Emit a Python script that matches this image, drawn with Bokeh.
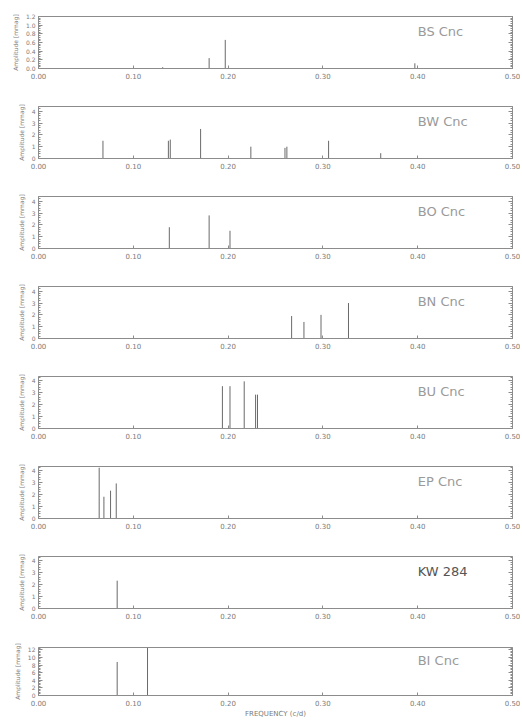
from bokeh.plotting import figure
from bokeh.layouts import column
from bokeh.models import LinearAxis, Label, FixedTicker, Range1d, NumeralTickFormatter
from bokeh.embed import file_html
from bokeh.resources import INLINE

# ---- data ----
star_names = ["BS Cnc", "BW Cnc", "BO Cnc", "BN Cnc", "BU Cnc", "EP Cnc", "KW 284", "BI Cnc"]

bs_freq = [0.131, 0.180, 0.197, 0.397]
bs_amp = [0.03, 0.24, 0.66, 0.12]

bw_freq = [0.068, 0.137, 0.139, 0.171, 0.224, 0.260, 0.262, 0.306, 0.361]
bw_amp = [1.5, 1.5, 1.6, 2.5, 1.0, 0.9, 1.0, 1.5, 0.45]

bo_freq = [0.138, 0.180, 0.202]
bo_amp = [1.8, 2.8, 1.5]

bn_freq = [0.267, 0.280, 0.298, 0.327]
bn_amp = [1.9, 1.4, 2.0, 3.0]

bu_freq = [0.194, 0.202, 0.217, 0.229, 0.231]
bu_amp = [3.5, 3.5, 3.9, 2.8, 2.8]

ep_freq = [0.064, 0.069, 0.076, 0.082]
ep_amp = [4.2, 1.8, 2.3, 2.9]

kw_freq = [0.083]
kw_amp = [2.3]

bi_freq = [0.083, 0.115]
bi_amp = [8.8, 12.5]

y_max = [1.2, 4.4, 4.4, 4.4, 4.3, 4.3, 4.3, 12.6]
y_ticks = [
    [0.0, 0.2, 0.4, 0.6, 0.8, 1.0, 1.2],
    [0, 1, 2, 3, 4],
    [0, 1, 2, 3, 4],
    [0, 1, 2, 3, 4],
    [0, 1, 2, 3, 4],
    [0, 1, 2, 3, 4],
    [0, 1, 2, 3, 4],
    [0, 2, 4, 6, 8, 10, 12],
]
y_formats = ["0.0", "0", "0", "0", "0", "0", "0", "0"]
x_ticks = [0.0, 0.1, 0.2, 0.3, 0.4, 0.5]
x_label = "FREQUENCY (c/d)"
y_label = "Amplitude [mmag]"

series = [
    (bs_freq, bs_amp), (bw_freq, bw_amp), (bo_freq, bo_amp), (bn_freq, bn_amp),
    (bu_freq, bu_amp), (ep_freq, ep_amp), (kw_freq, kw_amp), (bi_freq, bi_amp),
]

AX = "#8c8c8c"
TXT = "#7a7a7a"
SPIKE = "#6a6a6a"

figs = []
n = len(series)
for i, (name, (fq, am)) in enumerate(zip(star_names, series)):
    first = (i == 0)
    last = (i == n - 1)
    if first:
        h, bt, bb = 97, 16, 29
    elif last:
        h, bt, bb = 83, 10, 20
    else:
        h, bt, bb = 90, 9, 29
    p = figure(width=520, height=h, output_backend="svg", toolbar_location=None,
               x_range=Range1d(0.0, 0.5), y_range=Range1d(0, y_max[i]),
               min_border_left=38, min_border_right=8,
               min_border_top=bt, min_border_bottom=bb)
    p.grid.visible = False
    p.outline_line_color = AX
    p.outline_line_width = 1
    p.background_fill_color = "white"
    p.border_fill_color = "white"

    zeros = [0] * len(fq)
    p.segment(x0=fq, y0=zeros, x1=fq, y1=am, line_color=SPIKE, line_width=1)

    minor = [t * y_ticks[i][1] / 5 for t in range(0, 5 * (len(y_ticks[i]) + 1))]

    # bottom axis
    xa = p.xaxis[0]
    xa.ticker = FixedTicker(ticks=x_ticks)
    xa.formatter = NumeralTickFormatter(format="0.00")
    xa.axis_line_color = AX
    xa.major_tick_line_color = AX
    xa.major_tick_in = 3
    xa.major_tick_out = 0
    xa.minor_tick_line_color = None
    xa.major_label_text_font_size = "7px"
    xa.major_label_text_color = TXT
    xa.major_label_text_font = "DejaVu Sans"
    xa.major_label_standoff = 4
    if last:
        xa.axis_label = x_label
        xa.axis_label_text_font_size = "7px"
        xa.axis_label_text_font_style = "normal"
        xa.axis_label_text_color = TXT
        xa.axis_label_text_font = "DejaVu Sans"
        xa.axis_label_standoff = 1

    # left axis
    ya = p.yaxis[0]
    ya.ticker = FixedTicker(ticks=y_ticks[i], minor_ticks=minor)
    ya.formatter = NumeralTickFormatter(format=y_formats[i])
    ya.axis_line_color = AX
    ya.major_tick_line_color = AX
    ya.minor_tick_line_color = AX
    ya.major_tick_in = 4
    ya.major_tick_out = 0
    ya.minor_tick_in = 2
    ya.minor_tick_out = 0
    ya.major_label_text_font_size = "6px"
    ya.major_label_text_color = TXT
    ya.major_label_text_font = "DejaVu Sans"
    ya.major_label_standoff = 3
    ya.axis_label = y_label
    ya.axis_label_text_font_size = "6px"
    ya.axis_label_text_font_style = "normal"
    ya.axis_label_text_color = TXT
    ya.axis_label_text_font = "DejaVu Sans"
    ya.axis_label_standoff = 4

    # right axis (ticks only, no labels)
    ra = LinearAxis(ticker=FixedTicker(ticks=y_ticks[i], minor_ticks=minor))
    ra.axis_line_color = AX
    ra.major_tick_line_color = AX
    ra.minor_tick_line_color = AX
    ra.major_tick_in = 4
    ra.major_tick_out = 0
    ra.minor_tick_in = 2
    ra.minor_tick_out = 0
    ra.major_label_text_color = None
    ra.major_label_text_font_size = "6px"
    ra.major_label_standoff = 0
    p.add_layout(ra, "right")

    lab_color = "#555555" if name == "KW 284" else "#9a9a9a"
    p.add_layout(Label(x=0.40, y=y_max[i] * 0.72, text=name, text_font_size="13px",
                       text_color=lab_color, text_font="DejaVu Sans", text_baseline="middle"))
    figs.append(p)

layout = column(*figs, spacing=0)
open("out.html", "w").write(file_html(layout, INLINE))
